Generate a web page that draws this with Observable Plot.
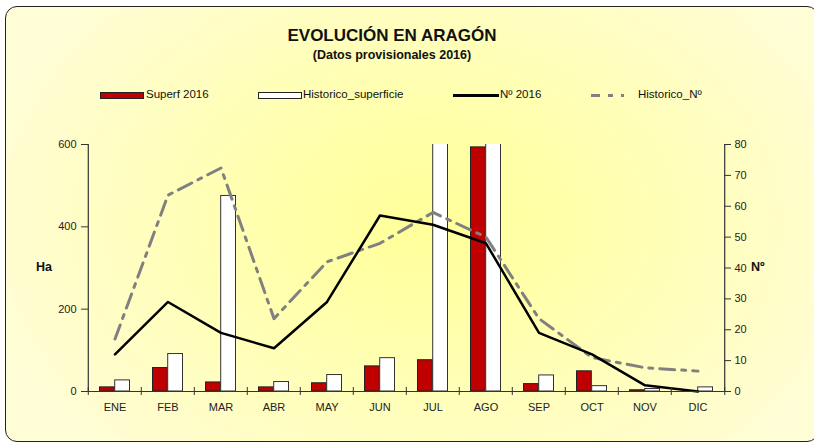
<!DOCTYPE html>
<html>
<head>
<meta charset="utf-8">
<script src="https://cdn.jsdelivr.net/npm/d3@7"></script>
<script src="https://cdn.jsdelivr.net/npm/@observablehq/plot@0.6"></script>
<style>
  html, body { margin: 0; padding: 0; background: #fff; overflow: hidden; }
  #wrap { position: relative; width: 814px; height: 442px; overflow: hidden; font-family: "Liberation Sans", Arial, sans-serif; color: #111; }
  #bg { position: absolute; left: 5px; top: 6px; width: 812px; height: 434px; border: 1.5px solid #222; border-radius: 12px;
        background: radial-gradient(ellipse 460px 330px at 420px 215px, #ffff99 0%, #ffffb0 40%, #fffdd6 100%); }
  .t { position: absolute; white-space: nowrap; }
  #title { left: 0; width: 784px; text-align: center; top: 27px; font-size: 17px; line-height: 17px; font-weight: bold; }
  #sub { left: 0; width: 784px; text-align: center; top: 49px; font-size: 12.5px; line-height: 12.5px; font-weight: bold; }
  .lg { top: 89px; font-size: 11.5px; line-height: 11.5px; }
  .sw { position: absolute; box-sizing: border-box; }
  #chart { position: absolute; left: 0; top: 0; }
  .ax { position: absolute; font-size: 12.5px; line-height: 12.5px; font-weight: bold; }
</style>
</head>
<body>
<div id="wrap">
  <div id="bg"></div>
  <div id="chart"></div>
  <div class="t" id="title">EVOLUCIÓN EN ARAGÓN</div>
  <div class="t" id="sub">(Datos provisionales 2016)</div>
  <div class="sw" style="left:100px;top:92px;width:44px;height:7px;background:#c00000;border:1px solid #222;"></div>
  <div class="t lg" style="left:146px;">Superf 2016</div>
  <div class="sw" style="left:258px;top:92px;width:44px;height:7px;background:#fff;border:1px solid #222;"></div>
  <div class="t lg" style="left:303px;">Historico_superficie</div>
  <div class="sw" style="left:453px;top:94px;width:46px;height:3px;background:#000;"></div>
  <div class="t lg" style="left:500px;">Nº 2016</div>
  <svg class="sw" style="left:591px;top:92px;" width="47" height="7"><line x1="0" x2="47" y1="3.5" y2="3.5" stroke="#808080" stroke-width="3" stroke-dasharray="9,8,5,8,3,20"/></svg>
  <div class="t lg" style="left:638px;">Historico_Nº</div>
  <div class="t ax" style="left:36px;top:261px;">Ha</div>
  <div class="t ax" style="left:751px;top:261px;">Nº</div>
</div>
<script>
const months = ["ENE","FEB","MAR","ABR","MAY","JUN","JUL","AGO","SEP","OCT","NOV","DIC"];
const superf2016 = [10, 57, 22, 10, 20, 61, 76, 593, 18, 49, 3, 0];
const historicoSuperficie = [27, 91, 475, 23, 40, 81, 950, 1050, 39, 13, 6, 10];
const n2016 = [12, 29, 19, 14, 29, 57, 54, 48, 19, 12, 2, 0];
const historicoN = [17, 63.6, 72.4, 23.6, 42, 48, 58, 50, 23.6, 11, 7.7, 6.6];
const haTicks = [0, 200, 400, 600];
const nTicks = [0, 10, 20, 30, 40, 50, 60, 70, 80];
const nToHa = 600 / 80;

const data = months.map((m, i) => ({
  month: m,
  superf: superf2016[i],
  hist: historicoSuperficie[i],
  n: n2016[i] * nToHa,
  hn: historicoN[i] * nToHa
}));

const W = 814, H = 442;
const mL = 85, mR = 88, mT = 144, mB = 51;
const bw = (W - mL - mR) / months.length;
const axisColor = "#333";
const yMax = haTicks[haTicks.length - 1];

const chart = Plot.plot({
  width: W, height: H,
  marginLeft: mL, marginRight: mR, marginTop: mT, marginBottom: mB,
  style: { background: "transparent", fontFamily: "'Liberation Sans', Arial, sans-serif", fontSize: "11px", color: "#222", overflow: "visible" },
  x: { type: "band", domain: months, padding: 0, axis: null },
  y: { domain: [0, yMax], axis: null },
  marks: [
    Plot.barY(data, { x: "month", y: "superf", fill: "#c00000", stroke: "#222", strokeWidth: 1, insetLeft: 11.5, insetRight: 26.7, clip: true }),
    Plot.barY(data, { x: "month", y: "hist", fill: "#ffffff", stroke: "#333", strokeWidth: 1, insetLeft: 26.7, insetRight: 11.5, clip: true }),
    Plot.line(data, { x: "month", y: "hn", stroke: "#808080", strokeWidth: 3, strokeDasharray: "15,7,4,7" }),
    Plot.line(data, { x: "month", y: "n", stroke: "#000", strokeWidth: 2.5 }),
    Plot.ruleY([0], { stroke: axisColor, strokeWidth: 1.2 }),
    Plot.ruleX([months[0]], { x: d => d, dx: -bw / 2, y1: 0, y2: yMax, stroke: axisColor, strokeWidth: 1.2 }),
    Plot.ruleX([months[months.length - 1]], { x: d => d, dx: bw / 2, y1: 0, y2: yMax, stroke: axisColor, strokeWidth: 1.2 }),
    Plot.ruleX(months, { x: d => d, dx: -bw / 2, y1: 0, y2: 0, insetTop: -4, insetBottom: -4, stroke: axisColor }),
    Plot.ruleX([months[months.length - 1]], { x: d => d, dx: bw / 2, y1: 0, y2: 0, insetTop: -4, insetBottom: -4, stroke: axisColor }),
    Plot.axisX({ tickSize: 0, tickPadding: 12, fontSize: 11, color: "#222", label: null }),
    Plot.axisY({ anchor: "left", ticks: haTicks, tickSize: 4, tickPadding: 5, stroke: axisColor, fill: "#222", label: null }),
    Plot.axisY({ anchor: "left", ticks: haTicks, tickSize: 3, text: null, dx: 3, stroke: axisColor, label: null }),
    Plot.axisY({ anchor: "right", ticks: nTicks.map(v => v * nToHa), tickFormat: d => String(Math.round(d / nToHa)), tickSize: 4, tickPadding: 4, stroke: axisColor, fill: "#222", label: null }),
    Plot.axisY({ anchor: "right", ticks: nTicks.map(v => v * nToHa), tickSize: 3, text: null, dx: -3, stroke: axisColor, label: null })
  ]
});
document.getElementById("chart").appendChild(chart);
</script>
</body>
</html>
